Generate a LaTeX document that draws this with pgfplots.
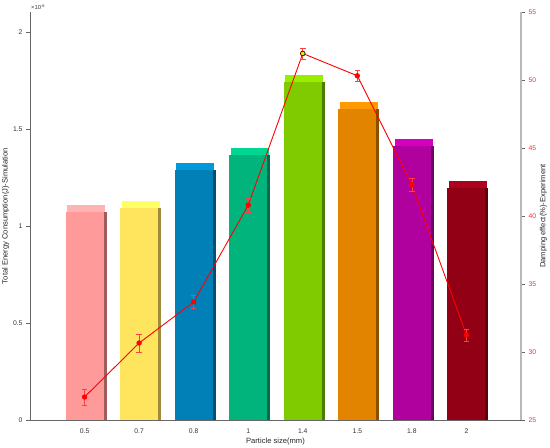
\documentclass[border=0pt]{standalone}
\usepackage{pgfplots}
\pgfplotsset{compat=1.18}
\usepackage{fontspec}
\setmainfont{Liberation Sans}
\definecolor{f1}{HTML}{FF9A9A}\definecolor{c1}{HTML}{FFB4B4}\definecolor{s1}{HTML}{A05C5C}
\definecolor{f2}{HTML}{FFE55E}\definecolor{c2}{HTML}{FFFF66}\definecolor{s2}{HTML}{A08A3C}
\definecolor{f3}{HTML}{0080B7}\definecolor{c3}{HTML}{009AD8}\definecolor{s3}{HTML}{00506F}
\definecolor{f4}{HTML}{00B47B}\definecolor{c4}{HTML}{00D592}\definecolor{s4}{HTML}{006E4B}
\definecolor{f5}{HTML}{80CB00}\definecolor{c5}{HTML}{99EE00}\definecolor{s5}{HTML}{4E7C00}
\definecolor{f6}{HTML}{E38400}\definecolor{c6}{HTML}{FF9A00}\definecolor{s6}{HTML}{8A5000}
\definecolor{f7}{HTML}{B0009D}\definecolor{c7}{HTML}{D300BC}\definecolor{s7}{HTML}{6B0060}
\definecolor{f8}{HTML}{920016}\definecolor{c8}{HTML}{AC001C}\definecolor{s8}{HTML}{58000D}
\definecolor{rlab}{HTML}{FF2A2A}
\pgfplotsset{
  front/.style={ybar, draw=none, bar width=0.696, bar shift=0, fill=#1},
  cap/.style={ybar, draw=none, bar width=0.696, bar shift=0.03, fill=#1},
  side/.style={ybar, draw=none, bar width=0.055, bar shift=0.376, fill=#1},
}
\begin{document}
\begin{tikzpicture}
\begin{axis}[name=ax, scale only axis, width=491pt, height=408pt,
  xmin=-1, xmax=8, ymin=0, ymax=2.103,
  axis x line*=bottom, axis y line*=left,
  axis line style={-, draw=gray!80!black, line width=0.7pt},
  xtick={0,...,7}, xticklabels={0.5,0.7,0.8,1,1.4,1.5,1.8,2},
  x tick style={draw=none},
  ytick={0,0.5,1,1.5,2},
  tick align=outside, major tick length=4pt,
  y tick style={draw=gray!80!black, line width=0.6pt},
  /pgf/number format/assume math mode=true,
  tick label style={font=\fontsize{6.8}{8}\selectfont, text=black!80},
  xticklabel style={yshift=-1.5pt},
  label style={font=\fontsize{7.6}{9}\selectfont, text=black!85},
  xlabel={Particle size(mm)},
  ylabel={Total Energy Consumption(J)-Simulation},
  xlabel style={yshift=3pt},
  ylabel style={yshift=-3pt},
]
\addplot[cap=c1] coordinates {(0,1.110)};
\addplot[side=s1] coordinates {(0,1.072)};
\addplot[front=f1] coordinates {(0,1.072)};
\addplot[cap=c2] coordinates {(1,1.131)};
\addplot[side=s2] coordinates {(1,1.093)};
\addplot[front=f2] coordinates {(1,1.093)};
\addplot[cap=c3] coordinates {(2,1.327)};
\addplot[side=s3] coordinates {(2,1.289)};
\addplot[front=f3] coordinates {(2,1.289)};
\addplot[cap=c4] coordinates {(3,1.404)};
\addplot[side=s4] coordinates {(3,1.366)};
\addplot[front=f4] coordinates {(3,1.366)};
\addplot[cap=c5] coordinates {(4,1.780)};
\addplot[side=s5] coordinates {(4,1.742)};
\addplot[front=f5] coordinates {(4,1.742)};
\addplot[cap=c6] coordinates {(5,1.641)};
\addplot[side=s6] coordinates {(5,1.603)};
\addplot[front=f6] coordinates {(5,1.603)};
\addplot[cap=c7] coordinates {(6,1.450)};
\addplot[side=s7] coordinates {(6,1.412)};
\addplot[front=f7] coordinates {(6,1.412)};
\addplot[cap=c8] coordinates {(7,1.234)};
\addplot[side=s8] coordinates {(7,1.196)};
\addplot[front=f8] coordinates {(7,1.196)};
\end{axis}
\begin{axis}[scale only axis, width=491pt, height=408pt,
  xmin=-1, xmax=8, ymin=25, ymax=55,
  axis y line*=right, axis x line=none,
  axis line style={-, draw=gray!55, line width=1.6pt},
  ytick={25,30,...,55},
  yticklabels={\textcolor{rlab}{25},\textcolor{rlab}{30},\textcolor{rlab}{35},\textcolor{rlab}{40},\textcolor{rlab}{45},\textcolor{rlab}{50},\textcolor{rlab}{55}},
  tick align=outside, major tick length=4pt,
  y tick style={draw=gray!80!black, line width=0.6pt},
  yticklabel style={font=\fontsize{6.8}{8}\selectfont, text=rlab},
  label style={font=\fontsize{7.6}{9}\selectfont, text=black!85},
  ylabel={Damping effect(\%)-Experiment},
  ylabel style={yshift=3pt},
]
\addplot[red, line width=0.9pt, mark=*, mark size=2.2pt,
  mark options={fill=red, draw=red},
  error bars/.cd, y dir=both, y explicit,
  error bar style={red!75, line width=0.6pt},
  error mark options={rotate=90, mark size=2.8pt, red!75, line width=0.6pt}]
  table[x=x, y=y, y error=e] {
x y e
0 26.69 0.59
1 30.66 0.66
2 33.68 0.50
3 40.80 0.50
4 51.95 0.40
5 50.31 0.43
6 42.28 0.50
7 31.25 0.45
};
\addplot[only marks, mark=*, mark size=2.3pt, mark options={fill=yellow!90!green, draw=black, line width=0.5pt}] coordinates {(4,51.95)};
\end{axis}
\node[anchor=south west, inner sep=0pt, font=\fontsize{5.8}{6}\selectfont, text=black!80] at ([xshift=1pt,yshift=2pt]ax.north west) {×10\textsuperscript{-6}};
\pgfresetboundingbox
\path ([xshift=-30pt,yshift=-28pt]ax.south west) rectangle ([xshift=29pt,yshift=12pt]ax.north east);
\end{tikzpicture}
\end{document}
